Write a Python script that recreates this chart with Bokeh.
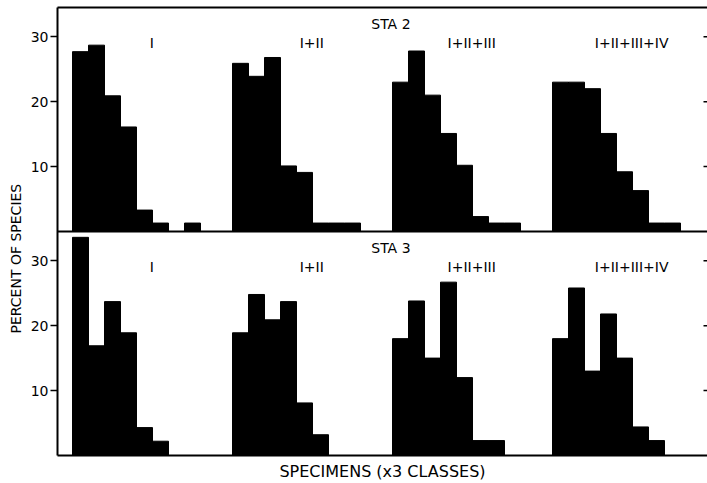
from bokeh.plotting import figure
from bokeh.models import Range1d, LinearAxis, FixedTicker, Span, Title, ColumnDataSource
from bokeh.core.properties import value
from bokeh.embed import file_html
from bokeh.resources import INLINE

# ---------------- data ----------------
GROUPS = ["I", "I+II", "I+II+III", "I+II+III+IV"]
STATIONS = ["STA 2", "STA 3"]

STA2_I = [27.7, 28.7, 20.9, 16.1, 3.3, 1.3, 0, 1.3]
STA2_I_II = [25.9, 23.9, 26.8, 10.1, 9.1, 1.3, 1.3, 1.3]
STA2_I_III = [23.0, 27.8, 21.0, 15.1, 10.2, 2.3, 1.3, 1.3]
STA2_I_IV = [23.0, 23.0, 22.0, 15.1, 9.2, 6.3, 1.3, 1.3]

STA3_I = [33.6, 16.9, 23.7, 18.9, 4.3, 2.2]
STA3_I_II = [18.9, 24.8, 20.9, 23.7, 8.1, 3.2]
STA3_I_III = [18.0, 23.8, 15.0, 26.7, 12.0, 2.3, 2.3]
STA3_I_IV = [18.0, 25.8, 13.0, 21.8, 15.0, 4.4, 2.3]

Y_TICKS = [10, 20, 30]
Y_MAX = 34.5
X_LABEL = "SPECIMENS (x3 CLASSES)"
Y_LABEL = "PERCENT OF SPECIES"

# ---------------- layout ----------------
FONT = "DejaVu Sans"
W, H = 707, 483
BL, BT, BB = 57, 7, 27
PX_PER_BIN = 16.0
GROUP_STEP = 10
x_start = 0.0625
x_end = x_start + (W - BL) / PX_PER_BIN

p = figure(width=W, height=H, x_range=Range1d(x_start, x_end), y_range=Range1d(0, 2 * Y_MAX),
           output_backend="svg", toolbar_location=None,
           min_border_left=BL, min_border_right=0, min_border_top=BT, min_border_bottom=BB,
           x_axis_location=None, y_axis_location=None)
p.extra_y_ranges = {"top": Range1d(-Y_MAX, Y_MAX)}
p.outline_line_color = None
p.background_fill_color = "white"
p.border_fill_color = "white"
for g in p.grid:
    g.visible = False


def bars(series_list):
    xs, tops = [], []
    for gi, vals in enumerate(series_list):
        for i, v in enumerate(vals):
            xs.append(gi * GROUP_STEP + 1 + i + 0.5)
            tops.append(v)
    return ColumnDataSource(dict(x=xs, top=tops))


top_src = bars([STA2_I, STA2_I_II, STA2_I_III, STA2_I_IV])
bot_src = bars([STA3_I, STA3_I_II, STA3_I_III, STA3_I_IV])

p.vbar(x="x", top="top", bottom=0, width=1.0, source=top_src, y_range_name="top",
       fill_color="black", line_color="black", line_width=1)
p.vbar(x="x", top="top", bottom=0, width=1.0, source=bot_src,
       fill_color="black", line_color="black", line_width=1)

# divider / top panel baseline
p.add_layout(Span(location=0, dimension="width", y_range_name="top",
                  line_color="black", line_width=2))

# left axis (both panels)
ticks = Y_TICKS + [t + Y_MAX for t in Y_TICKS]
overrides = {t + Y_MAX: str(t) for t in Y_TICKS}
overrides.update({t: str(t) for t in Y_TICKS})

left = LinearAxis(ticker=FixedTicker(ticks=ticks), major_label_overrides=overrides)
left.axis_line_width = 2
left.major_tick_out = 7
left.major_tick_in = 0
left.major_tick_line_width = 1.5
left.minor_tick_out = 0
left.minor_tick_in = 0
left.major_label_standoff = 2
left.major_label_text_font = FONT
left.major_label_text_font_size = "14px"
left.major_label_text_color = "black"
p.add_layout(left, "left")

# y label spanning both panels (as a left-side title)
ytitle = Title(text=Y_LABEL, align="left", offset=122, text_font=FONT,
               text_font_size="14px", text_font_style="normal", text_color="black",
               standoff=8)
p.add_layout(ytitle, "left")

# right-hand inward tick marks
tick_len = 4 / PX_PER_BIN
p.segment(x0=[x_end - tick_len] * len(Y_TICKS), x1=[x_end] * len(Y_TICKS),
          y0=Y_TICKS, y1=Y_TICKS, y_range_name="top", line_color="black", line_width=1.5)
p.segment(x0=[x_end - tick_len] * len(Y_TICKS), x1=[x_end] * len(Y_TICKS),
          y0=Y_TICKS, y1=Y_TICKS, line_color="black", line_width=1.5)

below = LinearAxis(ticker=FixedTicker(ticks=[]), axis_label=X_LABEL)
below.axis_line_width = 2
below.major_tick_out = 0
below.major_tick_in = 0
below.minor_tick_out = 0
below.major_label_standoff = 0
below.axis_label_standoff = 6
below.axis_label_text_font = FONT
below.axis_label_text_font_size = "16px"
below.axis_label_text_font_style = "normal"
below.axis_label_text_color = "black"
p.add_layout(below, "below")

above = LinearAxis(ticker=FixedTicker(ticks=[]))
above.axis_line_width = 2
above.major_tick_out = 0
above.major_tick_in = 0
above.minor_tick_out = 0
above.major_label_standoff = 0
p.add_layout(above, "above")

# station labels
STA_X = 20.9
STA_Y = 31.9
p.text(x=[STA_X], y=[STA_Y], text=[STATIONS[0]], y_range_name="top",
       text_font=value(FONT), text_font_size="14px", text_align="center",
       text_baseline="middle", text_color="black")
p.text(x=[STA_X], y=[STA_Y], text=[STATIONS[1]],
       text_font=value(FONT), text_font_size="14px", text_align="center",
       text_baseline="middle", text_color="black")

# group labels
GL_Y = 29.0
gx = [gi * GROUP_STEP + 1 + 4.95 for gi in range(len(GROUPS))]
p.text(x=gx, y=[GL_Y] * len(GROUPS), text=GROUPS, y_range_name="top",
       text_font=value(FONT), text_font_size="14px", text_align="center",
       text_baseline="middle", text_color="black")
p.text(x=gx, y=[GL_Y] * len(GROUPS), text=GROUPS,
       text_font=value(FONT), text_font_size="14px", text_align="center",
       text_baseline="middle", text_color="black")

open("out.html", "w").write(file_html(p, INLINE))
